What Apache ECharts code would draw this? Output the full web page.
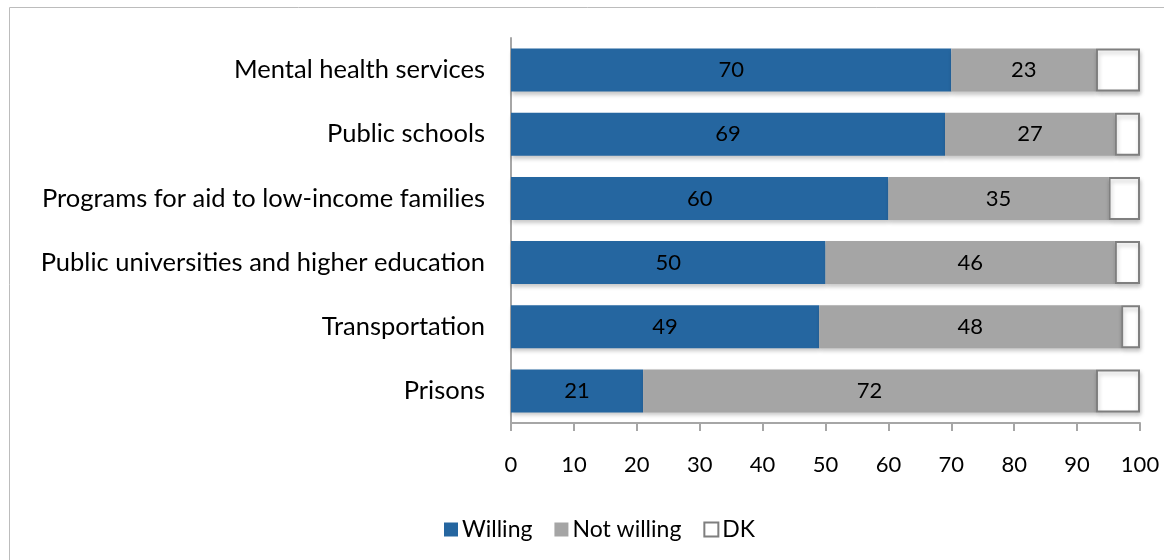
<!DOCTYPE html>
<html>
<head>
<meta charset="utf-8">
<script src="https://cdn.jsdelivr.net/npm/echarts@6/dist/echarts.min.js"></script>
<style>
  html, body { margin: 0; padding: 0; background: #fff; }
  #chart { width: 1164px; height: 560px; }
</style>
</head>
<body>
<div id="chart"></div>
<script>
// Categories listed bottom-to-top (ECharts category y-axis starts at the bottom)
const categories = [
  'Prisons',
  'Transportation',
  'Public universities and higher education',
  'Programs for aid to low-income families',
  'Public schools',
  'Mental health services'
];
const willing    = [21, 49, 50, 60, 69, 70];
const notWilling = [72, 48, 46, 35, 27, 23];
const dontKnow   = [7, 3, 4, 5, 4, 7];
const xTicks = [0, 10, 20, 30, 40, 50, 60, 70, 80, 90, 100];

const FONT = 'Lato';
const shadow = { shadowColor: 'rgba(0,0,0,0.22)', shadowBlur: 4, shadowOffsetX: 1, shadowOffsetY: 3 };

const chart = echarts.init(document.getElementById('chart'), null, { renderer: 'canvas' });

chart.setOption({
  animation: false,
  textStyle: { fontFamily: FONT },
  graphic: [{
    type: 'rect',
    shape: { x: 9.5, y: 7.5, width: 1300, height: 700 },
    style: { fill: 'none', stroke: '#bcbcbc', lineWidth: 1 },
    silent: true,
    z: -1
  }],
  grid: { left: 511, right: 24, top: 38, bottom: 137, containLabel: false },
  legend: {
    bottom: 14,
    left: 439,
    itemWidth: 14,
    itemHeight: 14,
    itemGap: 22,
    textStyle: { fontFamily: FONT, fontSize: 23, color: '#000', padding: [0, 0, 0, -1] },
    data: [
      { name: 'Willing', icon: 'rect' },
      { name: 'Not willing', icon: 'rect' },
      { name: 'DK', icon: 'rect', itemStyle: { color: '#fff', borderColor: '#7f7f7f', borderWidth: 2 } }
    ]
  },
  xAxis: {
    type: 'value',
    min: 0,
    max: 100,
    interval: 10,
    axisLine: { show: true, lineStyle: { color: '#a6a6a6', width: 2 } },
    axisTick: { show: true, length: 8, lineStyle: { color: '#a6a6a6', width: 2 } },
    splitLine: { show: false },
    axisLabel: {
      margin: 31,
      fontFamily: FONT,
      fontSize: 22,
      color: '#000',
      formatter: v => (xTicks.includes(v) ? String(v) : '')
    }
  },
  yAxis: {
    type: 'category',
    data: categories,
    axisLine: { show: true, lineStyle: { color: '#a6a6a6', width: 2 } },
    axisTick: { show: false },
    axisLabel: { margin: 26, fontFamily: FONT, fontSize: 25.5, color: '#000' }
  },
  series: [
    {
      name: 'Willing',
      type: 'bar',
      stack: 'total',
      barWidth: '67%',
      data: willing,
      itemStyle: Object.assign({ color: '#2566a0' }, shadow),
      label: { show: true, position: 'inside', fontFamily: FONT, fontSize: 22, color: '#000' }
    },
    {
      name: 'Not willing',
      type: 'bar',
      stack: 'total',
      data: notWilling,
      itemStyle: Object.assign({ color: '#a5a5a5' }, shadow),
      label: { show: true, position: 'inside', fontFamily: FONT, fontSize: 22, color: '#000' }
    },
    {
      name: 'DK',
      type: 'bar',
      stack: 'total',
      data: dontKnow,
      itemStyle: Object.assign({ color: '#ffffff', borderColor: '#7f7f7f', borderWidth: 2 }, shadow),
      label: { show: false }
    }
  ]
});
</script>
</body>
</html>
